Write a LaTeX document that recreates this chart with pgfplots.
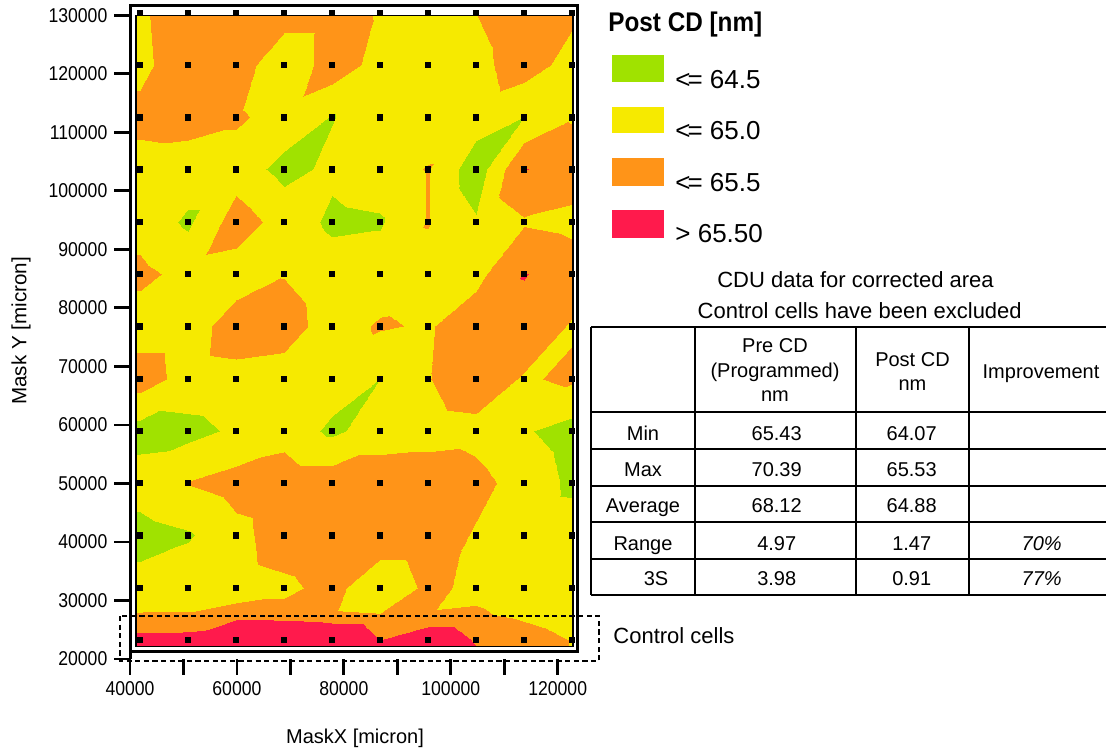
\documentclass[border=0pt]{standalone}
\usepackage{fontspec}
\setmainfont{Liberation Sans}
\newfontfamily\tickfont{Liberation Sans}[FakeStretch=0.88]
\newfontfamily\titlefont{Liberation Sans}[FakeStretch=0.9]
\usepackage{pgfplots}
\usepackage{pgfplotstable}
\pgfplotsset{compat=1.18}
\definecolor{cdgreen}{RGB}{160,226,0}
\definecolor{cdyellow}{RGB}{246,234,0}
\definecolor{cdorange}{RGB}{255,148,24}
\definecolor{cdred}{RGB}{255,26,76}

\pgfplotstableread{
x y v
40500 130440 64.9
41870 130440 64.9
50840 130440 65.4
59810 130440 65.4
68790 130440 65.3
77760 130440 65.3
86730 130440 64.95
95700 130440 64.75
104670 130440 65.0
113650 130440 65.3
122620 130440 65.1
123700 130440 65.1
40500 121510 64.86
41870 121510 64.86
50840 121510 65.35
59810 121510 65.35
68790 121510 64.52
77760 121510 65.3
86730 121510 64.8
95700 121510 64.75
104670 121510 64.85
113650 121510 65.25
122620 121510 64.8
123700 121510 64.8
40500 112580 65.15
41870 112580 65.15
50840 112580 65.2
59810 112580 65.08
68790 112580 64.8
77760 112580 64.48
86730 112580 64.75
95700 112580 64.7
104670 112580 64.75
113650 112580 64.5
122620 112580 64.95
123700 112580 64.95
40500 103650 64.8
41870 103650 64.8
50840 103650 64.75
59810 103650 64.75
68790 103650 64.35
77760 103650 64.6
86730 103650 64.75
95700 103650 65.03
104670 103650 64.2
113650 103650 65.52
122620 103650 65.3
123700 103650 65.3
40500 94710 64.8
41870 94710 64.8
50840 94710 64.42
59810 94710 65.25
68790 94710 64.8
77760 94710 64.4
86730 94710 64.45
95700 94710 65.03
104670 94710 64.55
113650 94710 64.95
122620 94710 64.85
123700 94710 64.85
40500 85780 65.12
41870 85780 65.12
50840 85780 64.85
59810 85780 64.75
68790 85780 64.98
77760 85780 64.75
86730 85780 64.75
95700 85780 64.8
104670 85780 64.85
113650 85780 65.52
122620 85780 65.3
123700 85780 65.3
40500 76850 64.75
41870 76850 64.75
50840 76850 64.75
59810 76850 65.25
68790 76850 65.2
77760 76850 64.8
86730 76850 65.05
95700 76850 64.95
104670 76850 65.3
113650 76850 65.35
122620 76850 64.95
123700 76850 64.95
40500 67910 65.25
41870 67910 65.25
50840 67910 64.8
59810 67910 64.85
68790 67910 64.8
77760 67910 64.75
86730 67910 64.5
95700 67910 64.98
104670 67910 65.3
113650 67910 64.95
122620 67910 65.08
123700 67910 65.08
40500 58980 64.3
41870 58980 64.3
50840 58980 64.35
59810 58980 64.58
68790 58980 64.8
77760 58980 64.4
86730 58980 64.75
95700 58980 64.8
104670 58980 64.85
113650 58980 64.55
122620 58980 64.3
123700 58980 64.3
40500 50050 64.75
41870 50050 64.75
50840 50050 65.02
59810 50050 65.2
68790 50050 65.3
77760 50050 65.3
86730 50050 65.3
95700 50050 65.3
104670 50050 65.15
113650 50050 64.8
122620 50050 64.4
123700 50050 64.4
40500 41110 64.3
41870 41110 64.3
50840 41110 64.45
59810 41110 64.85
68790 41110 65.25
77760 41110 65.35
86730 41110 65.3
95700 41110 65.3
104670 41110 64.95
113650 41110 64.8
122620 41110 64.75
123700 41110 64.75
40500 32180 64.7
41870 32180 64.7
50840 32180 64.8
59810 32180 64.8
68790 32180 64.9
77760 32180 65.15
86730 32180 64.65
95700 32180 65.1
104670 32180 64.9
113650 32180 64.8
122620 32180 64.8
123700 32180 64.8
40500 27690 65.02
41870 27690 65.02
50840 27690 65.02
59810 27690 65.15
68790 27690 65.15
77760 27690 65.05
86730 27690 65.01
95700 27690 65.02
104670 27690 65.05
113650 27690 64.9
122620 27690 64.7
123700 27690 64.7
40500 23250 65.68
41870 23250 65.68
50840 23250 65.72
59810 23250 66.67
68790 23250 66.6
77760 23250 66.34
86730 23250 65.5
95700 23250 66.0
104670 23250 65.45
113650 23250 65.25
122620 23250 64.98
123700 23250 64.98
40500 21400 65.8
41870 21400 65.8
50840 21400 65.8
59810 21400 66.7
68790 21400 66.6
77760 21400 66.3
86730 21400 65.7
95700 21400 66.0
104670 21400 65.55
113650 21400 65.25
122620 21400 64.98
123700 21400 64.98
}\cdtable

\begin{document}
\begin{tikzpicture}[x=0.5pt,y=-0.5pt]
\useasboundingbox (0,0) rectangle (1106,751);
\begin{axis}[
  at={(65pt,-329.5pt)}, anchor=south west,
  scale only axis, width=224pt, height=326.55pt,
  xmin=40000, xmax=123800, ymin=20000, ymax=131600,
  clip=false,
  axis x line*=bottom, axis y line*=left,
  x axis line style={draw=none},
  y axis line style={-, line width=1.5pt},
  tick align=outside,
  major tick length=7.8pt,
  tick style={line width=1.4pt, black},
  xtick={40000,50000,60000,70000,80000,90000,100000,110000,120000},
  xticklabels={40000,,60000,,80000,,100000,,120000},
  ytick={20000,30000,40000,50000,60000,70000,80000,90000,100000,110000,120000,130000},
  yticklabels={20000,30000,40000,50000,60000,70000,80000,90000,100000,110000,120000,130000},
  scaled ticks=false,
  ticklabel style={font=\tickfont\fontsize{10}{12}\selectfont},
  point meta min=63.5, point meta max=67.5,
  colormap={cdu}{color=(cdgreen) color=(cdgreen) color=(cdyellow) color=(cdorange)
    color=(cdred) color=(cdred) color=(cdred) color=(cdred)},
]
\addplot[surf, shader=interp, colormap access=piecewise constant, mesh/cols=12,
  point meta=\thisrow{v}] table[x=x,y=y] {\cdtable};
\fill[white, even odd rule] (axis cs:40000,21282) rectangle (axis cs:123700,131585)
  (axis cs:41122,22136) rectangle (axis cs:122866,129962);
\draw[line width=1.5pt] (axis cs:40000,21282) rectangle (axis cs:123700,131585);
\draw[line width=0.75pt] (axis cs:41122,22136) rectangle (axis cs:122866,129962);
\addplot[only marks, mark=square*, mark size=1.35pt, black,
  restrict x to domain=41000:123000, restrict y to domain=22000:131000,
  restrict expr to domain={abs(\thisrow{y}-27690)}{100:1000000}]
  table[x=x,y=y] {\cdtable};
\end{axis}
% dashed control cell box
\draw[dash pattern=on 2.6pt off 1.7pt, line width=0.6pt] (120,616) rectangle (599,661);
\node[anchor=base west, inner sep=0, font=\fontsize{11}{13}\selectfont] at (613,643.3) {Control cells};
% axis labels
\node[rotate=90, font=\fontsize{10.3}{12}\selectfont] at (21,331) {Mask Y [micron]};
\node[font=\fontsize{10}{12}\selectfont] at (355,738) {MaskX [micron]};
% legend
\node[anchor=base west, inner sep=0, font=\titlefont\bfseries\fontsize{13.5}{16}\selectfont] at (608,31) {Post CD [nm]};
\fill[cdgreen] (612,55) rectangle (664,82);
\fill[cdyellow] (612,107) rectangle (664,133);
\fill[cdorange] (612,158) rectangle (664,186);
\fill[cdred] (612,210) rectangle (664,238);
\begin{scope}[every node/.style={anchor=base west, inner sep=0, font=\fontsize{13}{15}\selectfont}]
\node at (675,88) {<\kern-0.12em= 64.5};
\node at (675,139.5) {<\kern-0.12em= 65.0};
\node at (675,191) {<\kern-0.12em= 65.5};
\node at (675,242.7) {> 65.50};
\end{scope}
% table title
\begin{scope}[every node/.style={anchor=base, inner sep=0, font=\fontsize{11}{13}\selectfont}]
\node at (855.5,287.3) {CDU data for corrected area};
\node at (859.7,318.3) {Control cells have been excluded};
\end{scope}
% table grid
\begin{scope}[line width=1.1pt]
\foreach \yy in {326.7,411.7,449,486,522.3,559,595} {\draw (591,\yy) -- (1106,\yy);}
\foreach \xx in {591,695,855.7,969.3} {\draw (\xx,326.7) -- (\xx,595);}
\end{scope}
\begin{scope}[every node/.style={anchor=base, inner sep=0, font=\fontsize{10}{12}\selectfont}]
\node at (775,352.7) {Pre CD};
\node at (775,377.3) {(Programmed)};
\node at (775,401.7) {nm};
\node at (912.5,366) {Post CD};
\node at (912.5,390.7) {nm};
\node at (1041,378.3) {Improvement};
\node at (643,440) {Min};
\node at (643,476.7) {Max};
\node at (643,512.7) {Average};
\node at (643,550) {Range};
\node at (656,585) {3S};
\node at (776.7,440) {65.43};
\node at (776.7,476.7) {70.39};
\node at (776.7,512.7) {68.12};
\node at (776.7,550) {4.97};
\node at (776.7,585) {3.98};
\node at (911.7,440) {64.07};
\node at (911.7,476.7) {65.53};
\node at (911.7,512.7) {64.88};
\node at (911.7,550) {1.47};
\node at (911.7,585) {0.91};
\node at (1041.7,550) {\itshape 70\%};
\node at (1041.7,585) {\itshape 77\%};
\end{scope}
\end{tikzpicture}
\end{document}
